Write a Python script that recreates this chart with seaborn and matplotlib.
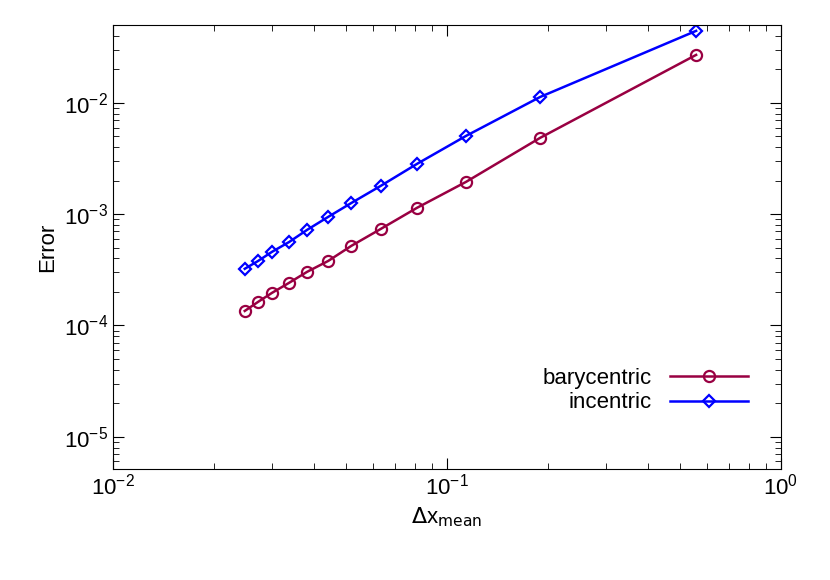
import matplotlib
matplotlib.use("Agg")
import matplotlib.pyplot as plt
import seaborn as sns
import pandas as pd
from matplotlib.ticker import LogLocator, FixedLocator, NullFormatter

dx = [0.0248, 0.0272, 0.0299, 0.0337, 0.0381, 0.0441, 0.0517, 0.0634, 0.0813, 0.114, 0.190, 0.557]
bary = [1.35e-4, 1.63e-4, 1.96e-4, 2.42e-4, 3.03e-4, 3.80e-4, 5.19e-4, 7.38e-4, 1.14e-3, 1.95e-3, 4.85e-3, 0.027]
inc = [3.23e-4, 3.80e-4, 4.58e-4, 5.63e-4, 7.22e-4, 9.46e-4, 1.26e-3, 1.80e-3, 2.83e-3, 5.05e-3, 0.0113, 0.0444]
names = ["barycentric", "incentric"]

plt.rcParams["font.family"] = "Liberation Sans"
fig = plt.figure(figsize=(8.3, 5.8), dpi=100)
ax = fig.add_axes([113/830, 111/580, 668/830, 444/580])
for name, vals, col, mk, ms in [(names[0], bary, "#990042", "o", 8),
                                (names[1], inc, "#0000ff", "D", 6)]:
    sns.lineplot(x=dx, y=vals, color=col, marker=mk, markersize=ms,
                 markerfacecolor="none", markeredgecolor=col, markeredgewidth=1.6,
                 linewidth=1.8, label=name, ax=ax)
ax.set_xscale("log"); ax.set_yscale("log")
ax.set_xlim(0.01, 1)
ax.set_ylim(10**-5.29, 10**-1.30)
ax.xaxis.set_major_locator(FixedLocator([0.01, 0.1, 1]))
ax.yaxis.set_major_locator(FixedLocator([1e-5, 1e-4, 1e-3, 1e-2]))
ax.xaxis.set_minor_locator(LogLocator(subs=range(2, 10)))
ax.yaxis.set_minor_locator(LogLocator(subs=range(2, 10)))
ax.xaxis.set_minor_formatter(NullFormatter())
ax.yaxis.set_minor_formatter(NullFormatter())
ax.tick_params(which="both", direction="in", top=True, right=True, labelsize=16)
ax.tick_params(which="major", length=8)
ax.tick_params(which="minor", length=4)
ax.set_xlabel(r"$\Delta$x$_{\mathrm{mean}}$", fontsize=16)
ax.set_ylabel("Error", fontsize=16)
ax.grid(False)
ax.legend(loc="lower right", frameon=False, markerfirst=False,
          fontsize=16, handlelength=3.5, labelspacing=0.15,
          bbox_to_anchor=(0.98, 0.08))
fig.savefig("out.png", dpi=100)
